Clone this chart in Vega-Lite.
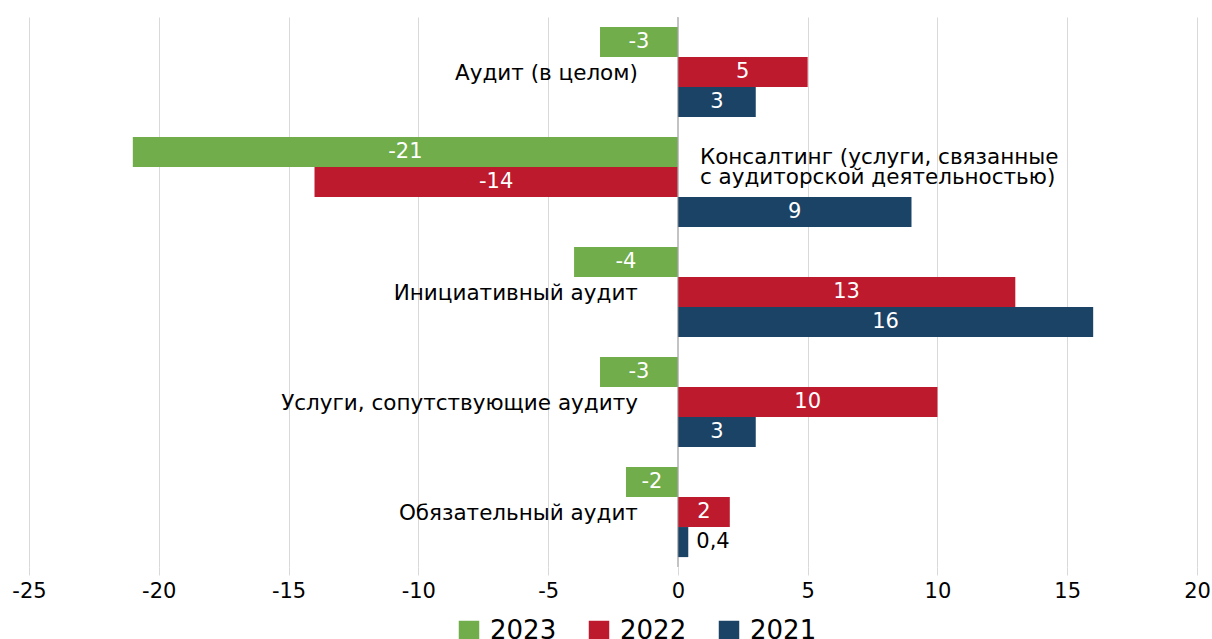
{
  "$schema": "https://vega.github.io/schema/vega-lite/v6.json",
  "width": 1168,
  "height": 550,
  "autosize": {"type": "none"},
  "padding": {"left": 29, "top": 17, "right": 15, "bottom": 72},
  "config": {
    "view": {"stroke": null},
    "font": "DejaVu Sans",
    "text": {"font": "DejaVu Sans"}
  },
  "datasets": {
    "bars": [
      {"category": "Аудит (в целом)", "year": "2023", "value": -3, "label": "-3"},
      {"category": "Аудит (в целом)", "year": "2022", "value": 5, "label": "5"},
      {"category": "Аудит (в целом)", "year": "2021", "value": 3, "label": "3"},
      {"category": "Консалтинг", "year": "2023", "value": -21, "label": "-21"},
      {"category": "Консалтинг", "year": "2022", "value": -14, "label": "-14"},
      {"category": "Консалтинг", "year": "2021", "value": 9, "label": "9"},
      {"category": "Инициативный аудит", "year": "2023", "value": -4, "label": "-4"},
      {"category": "Инициативный аудит", "year": "2022", "value": 13, "label": "13"},
      {"category": "Инициативный аудит", "year": "2021", "value": 16, "label": "16"},
      {"category": "Услуги, сопутствующие аудиту", "year": "2023", "value": -3, "label": "-3"},
      {"category": "Услуги, сопутствующие аудиту", "year": "2022", "value": 10, "label": "10"},
      {"category": "Услуги, сопутствующие аудиту", "year": "2021", "value": 3, "label": "3"},
      {"category": "Обязательный аудит", "year": "2023", "value": -2, "label": "-2"},
      {"category": "Обязательный аудит", "year": "2022", "value": 2, "label": "2"},
      {"category": "Обязательный аудит", "year": "2021", "value": 0.4, "label": "0,4"}
    ],
    "cats": [
      {"category": "Аудит (в целом)", "text": "Аудит (в целом)", "side": "left"},
      {"category": "Консалтинг", "text": "Консалтинг (услуги, связанные\nс аудиторской деятельностью)", "side": "right"},
      {"category": "Инициативный аудит", "text": "Инициативный аудит", "side": "left"},
      {"category": "Услуги, сопутствующие аудиту", "text": "Услуги, сопутствующие аудиту", "side": "left"},
      {"category": "Обязательный аудит", "text": "Обязательный аудит", "side": "left"}
    ]
  },
  "layer": [
    {
      "data": {"name": "bars"},
      "mark": {"type": "bar"},
      "encoding": {
        "y": {"field": "category", "type": "nominal", "sort": null,
              "scale": {"paddingInner": 0.18, "paddingOuter": 0.09}, "axis": null},
        "yOffset": {"field": "year", "type": "nominal", "sort": ["2023", "2022", "2021"],
                    "scale": {"paddingInner": 0, "paddingOuter": 0}},
        "x": {"field": "value", "type": "quantitative",
              "scale": {"domain": [-25, 20], "nice": false, "zero": false},
              "axis": {"values": [-25, -20, -15, -10, -5, 0, 5, 10, 15, 20],
                       "labelExpr": "replace(datum.label, '−', '-')",
                       "labelFlush": false,
                       "grid": true, "gridColor": "#d9d9d9", "gridWidth": 1,
                       "tickColor": "#d9d9d9", "tickSize": 8, "domain": false,
                       "labelFontSize": 21, "labelColor": "#000000", "labelPadding": 5,
                       "labelFont": "DejaVu Sans", "title": null}},
        "color": {"field": "year", "type": "nominal",
                  "sort": ["2023", "2022", "2021"],
                  "scale": {"domain": ["2023", "2022", "2021"], "range": ["#71ad4a", "#be1a2e", "#1b4366"]},
                  "legend": {"title": null, "orient": "none", "direction": "horizontal",
                             "legendX": 427, "legendY": 601,
                             "symbolType": "square", "symbolSize": 420, "symbolStrokeWidth": 0,
                             "labelFontSize": 26, "labelColor": "#000000", "labelFont": "DejaVu Sans",
                             "labelOffset": 8, "columnPadding": 29}}
      }
    },
    {
      "data": {"values": [{}]},
      "mark": {"type": "rule", "color": "#a0a0a0", "strokeWidth": 1},
      "encoding": {"x": {"datum": 0}}
    },
    {
      "data": {"name": "bars"},
      "transform": [
        {"filter": "abs(datum.value) >= 1"},
        {"calculate": "datum.value / 2", "as": "mid"}
      ],
      "mark": {"type": "text", "color": "#ffffff", "fontSize": 21, "align": "center", "baseline": "middle"},
      "encoding": {
        "y": {"field": "category", "type": "nominal", "sort": null},
        "yOffset": {"field": "year", "type": "nominal", "sort": ["2023", "2022", "2021"]},
        "x": {"field": "mid", "type": "quantitative"},
        "text": {"field": "label"}
      }
    },
    {
      "data": {"name": "bars"},
      "transform": [{"filter": "abs(datum.value) < 1"}],
      "mark": {"type": "text", "color": "#000000", "fontSize": 21, "align": "left", "baseline": "middle", "dx": 8},
      "encoding": {
        "y": {"field": "category", "type": "nominal", "sort": null},
        "yOffset": {"field": "year", "type": "nominal", "sort": ["2023", "2022", "2021"]},
        "x": {"field": "value", "type": "quantitative"},
        "text": {"field": "label"}
      }
    },
    {
      "data": {"name": "cats"},
      "transform": [{"filter": "datum.side === 'left'"}],
      "mark": {"type": "text", "color": "#000000", "fontSize": 21.5, "align": "right", "baseline": "middle", "dx": -40, "dy": 2},
      "encoding": {
        "y": {"field": "category", "type": "nominal", "sort": null},
        "x": {"datum": 0},
        "text": {"field": "text"}
      }
    },
    {
      "data": {"name": "cats"},
      "transform": [{"filter": "datum.side === 'right'"}],
      "mark": {"type": "text", "color": "#000000", "fontSize": 21.5, "align": "left", "baseline": "middle", "dx": 22, "dy": -24, "lineBreak": "\n", "lineHeight": 20},
      "encoding": {
        "y": {"field": "category", "type": "nominal", "sort": null},
        "x": {"datum": 0},
        "text": {"field": "text"}
      }
    }
  ]
}
